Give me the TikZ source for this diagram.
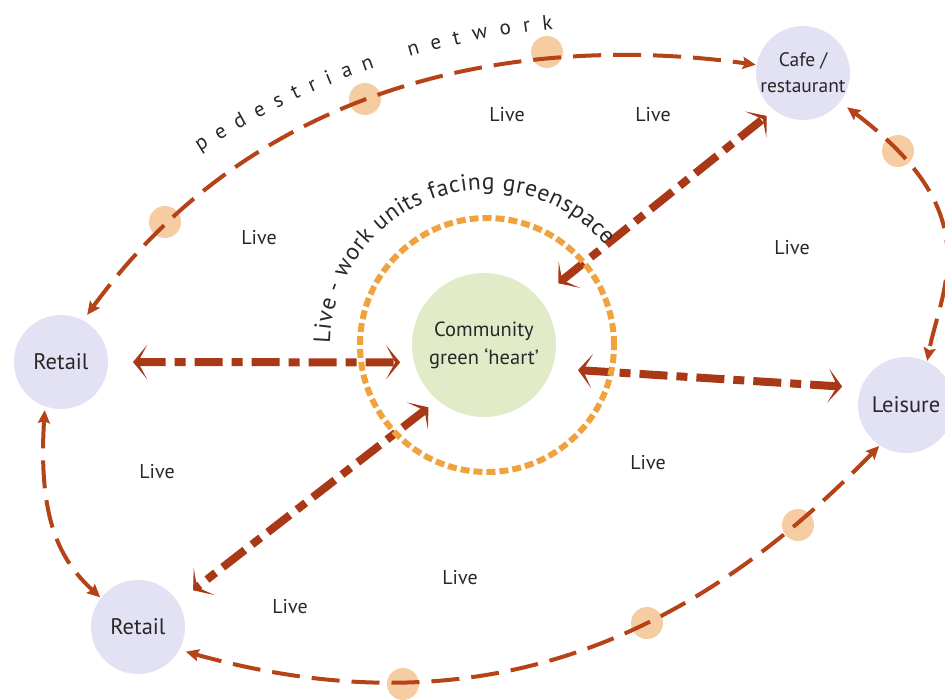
\documentclass[tikz,border=0pt]{standalone}
\usepackage{fontspec}
\setmainfont{PT Sans}
\usetikzlibrary{arrows.meta,decorations.text}
\definecolor{loopred}{RGB}{182,66,24}
\definecolor{thickred}{RGB}{168,56,22}
\definecolor{peach}{RGB}{246,205,162}
\definecolor{ringorange}{RGB}{240,162,62}
\definecolor{greenfill}{RGB}{225,235,199}
\definecolor{lavender}{RGB}{226,226,244}
\definecolor{txt}{RGB}{40,40,40}
\begin{document}
\begin{tikzpicture}[x=1pt,y=-1pt,
  place/.style={circle, fill=lavender, inner sep=0pt, outer sep=0pt, text=txt, align=center},
  livelbl/.style={text=txt, font=\fontsize{20}{22}\selectfont, inner sep=0pt},
  dot/.style={circle, fill=peach, minimum size=32pt, inner sep=0pt, outer sep=0pt},
  looparrow/.style={draw=loopred, line width=4pt, dash pattern=on 28pt off 12pt,
     >={Stealth[length=13pt,width=12pt,inset=2pt]}, <->},
  link/.style={draw=thickred, line width=8pt, dash pattern=on 28pt off 9pt on 11pt off 9pt,
     >={Stealth[length=14pt,width=34pt,inset=9pt]}, <->},
]
\useasboundingbox (0,0) rectangle (945,699);
\fill[white] (0,0) rectangle (945,699);

% main nodes
\node[circle, fill=greenfill, minimum size=144pt, inner sep=0pt, outer sep=0pt, text=txt,
      align=center, font=\fontsize{20.5}{28}\selectfont] (green) at (484,345) {Community\\green ‘heart’};
\node[place, minimum size=94pt, font=\fontsize{22.5}{24}\selectfont] (retailL) at (61,362) {Retail};
\node[place, minimum size=94pt, font=\fontsize{22.5}{24}\selectfont] (retailB) at (138,627) {Retail};
\node[place, minimum size=92pt, font=\fontsize{19.5}{26}\selectfont] (cafe) at (803,73) {Cafe /\\restaurant};
\node[place, minimum size=96pt, font=\fontsize{22.5}{24}\selectfont] (leisure) at (906,405) {Leisure};

% peach stops on the pedestrian loop
\node[dot] (d1) at (165,222) {};
\node[dot] (d2) at (365,99) {};
\node[dot] (d3) at (547,52) {};
\node[dot] (d4) at (898,151) {};
\node[dot] (d5) at (798,525) {};
\node[dot] (d6) at (647,623) {};
\node[dot] (d7) at (403,684) {};

% pedestrian loop
\draw[looparrow, shorten <=7pt, shorten >=1pt] (retailL.62) .. controls (309,11) and (662,52) .. (cafe.170);
\draw[looparrow, shorten <=9pt, shorten >=1pt] (cafe.-38) .. controls (990,215) and (941,288) .. (leisure.64);
\draw[looparrow, shorten <=1pt, shorten >=7pt] (leisure.-123) .. controls (695,636) and (484,735) .. (retailB.-29);
\draw[looparrow, shorten <=4pt, shorten >=1pt] (retailL.-110) .. controls (38,520) and (60,560) .. (retailB.142);

% links to the green heart
\draw[link, shorten <=25pt, shorten >=14pt] (retailL.0) -- (green.194);
\draw[link, shorten <=26pt, shorten >=19pt] (green.-19) -- (leisure.159.5);
\draw[link, shorten <=24.6pt, shorten >=9.5pt] (green.40) -- (cafe.-128);
\draw[link, shorten <=11.7pt, shorten >=19.3pt] (green.-130.5) -- (retailB.32);

% live-work ring
\node[circle, draw=ringorange, line width=6pt, dash pattern=on 9pt off 4pt, minimum size=254pt,
      inner sep=0pt] (ring) at (487,345) {};

% Live labels
\node[livelbl] (live1) at (507,115) {Live};
\node[livelbl] (live2) at (653,115) {Live};
\node[livelbl] (live3) at (259,238) {Live};
\node[livelbl] (live4) at (792,248) {Live};
\node[livelbl] (live5) at (157,472) {Live};
\node[livelbl] (live6) at (648,463) {Live};
\node[livelbl] (live7) at (460,578) {Live};
\node[livelbl] (live8) at (290,607) {Live};

% curved texts
\path[decorate, decoration={text along path, text color=txt, text align=fit to path,
      text={|\fontsize{21}{21}\selectfont|pedestrian}}]
  (200,152) .. controls (253,118.1) and (311.6,89.2) .. (374.8,67.6);
\path[decorate, decoration={text along path, text color=txt, text align=fit to path,
      text={|\fontsize{21}{21}\selectfont|network}}]
  (409.3,56.75) .. controls (455.1,43.4) and (503.1,33.9) .. (553,29);
\path[decorate, decoration={text along path, text color=txt, text align=fit to path,
      text={|\fontsize{23.5}{23.5}\selectfont|Live - work units facing greenspace}}]
  (330,343.3) arc[start angle=179, end angle=40, radius=156pt];
\end{tikzpicture}
\end{document}
